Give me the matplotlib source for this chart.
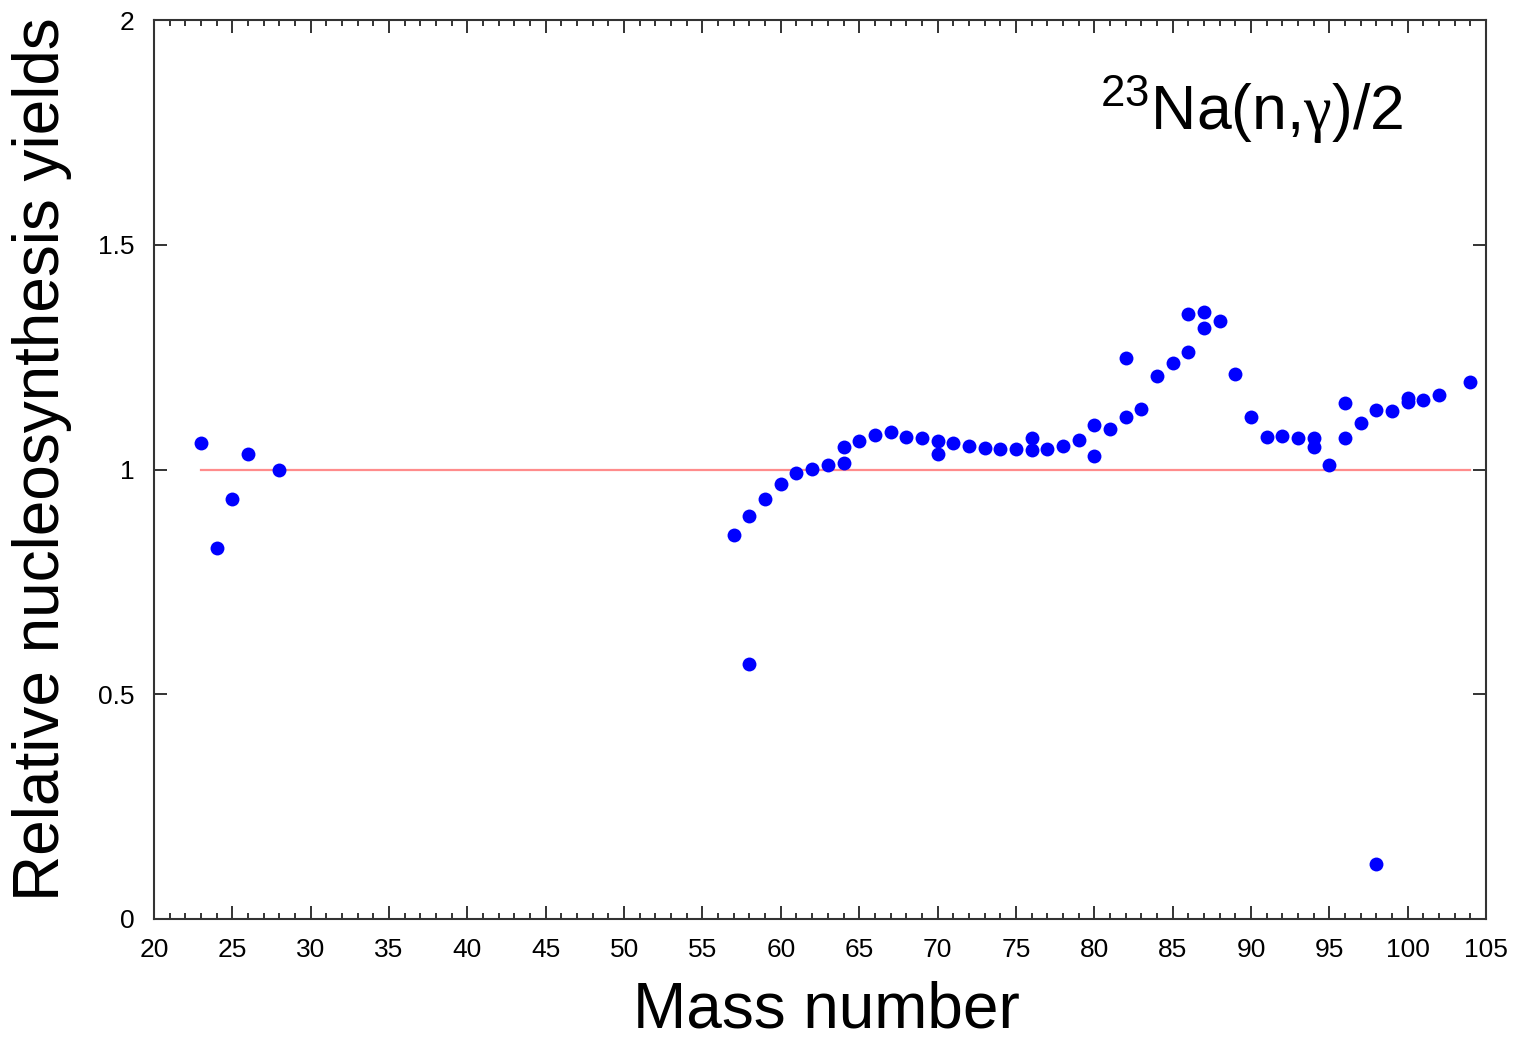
import matplotlib
matplotlib.use("Agg")
import matplotlib.pyplot as plt
from matplotlib.ticker import MultipleLocator

plt.rcParams['font.family'] = ['Liberation Sans', 'DejaVu Sans']
plt.rcParams['mathtext.fontset'] = 'custom'
plt.rcParams['mathtext.rm'] = 'Liberation Sans'
plt.rcParams['mathtext.sf'] = 'Liberation Serif'

mass_number = [23, 24, 25, 26, 28,
               57, 58, 58, 59, 60, 61, 62, 63, 64, 64, 65, 66, 67, 68, 69,
               70, 70, 71, 72, 73, 74, 75, 76, 76, 77, 78, 79, 80, 80, 81,
               82, 82, 83, 84, 85, 86, 86, 87, 87, 88, 89, 90, 91, 92, 93,
               94, 94, 95, 96, 96, 97, 98, 98, 99, 100, 100, 101, 102, 104]
relative_yield = [1.058, 0.826, 0.934, 1.034, 1.000,
                  0.854, 0.897, 0.567, 0.934, 0.967, 0.992, 1.001, 1.009, 1.014, 1.049,
                  1.063, 1.077, 1.083, 1.072, 1.069,
                  1.063, 1.034, 1.059, 1.053, 1.048, 1.046, 1.046, 1.069, 1.044, 1.046,
                  1.052, 1.066, 1.100, 1.031, 1.091,
                  1.249, 1.116, 1.134, 1.208, 1.238, 1.261, 1.347, 1.351, 1.315, 1.331,
                  1.212, 1.117, 1.073, 1.074, 1.069,
                  1.071, 1.049, 1.009, 1.149, 1.070, 1.103, 1.132, 0.123, 1.131, 1.160,
                  1.151, 1.154, 1.166, 1.195]
reference_x = [23, 104]
reference_y = [1.0, 1.0]

fig = plt.figure(figsize=(15.15, 10.42), dpi=100)
ax = fig.add_axes([154/1515, 1-919/1042, (1486-154)/1515, (919-20)/1042])

ax.plot(reference_x, reference_y, color='#ff8c8c', lw=1.6, zorder=1)
ax.plot(mass_number, relative_yield, 'o', color='#0000ff', ms=10, mew=0, zorder=2)

ax.set_xlim(20, 105)
ax.set_ylim(0, 2)
ax.xaxis.set_major_locator(MultipleLocator(5))
ax.xaxis.set_minor_locator(MultipleLocator(1))
ax.set_yticks([0, 0.5, 1, 1.5, 2])
ax.set_yticklabels(['0', '0.5', '1', '1.5', '2'])

for s in ax.spines.values():
    s.set_linewidth(1.5)
    s.set_color('#333333')
ax.tick_params(which='both', direction='in', top=True, right=True, color='#333333',
               labelsize=19, width=1.4)
ax.tick_params(which='major', length=9.5)
ax.tick_params(axis='x', which='major', pad=14)
ax.tick_params(axis='y', which='major', pad=14)
ax.tick_params(which='minor', length=4.5)

fig.text(826/1515, 1-1027/1042, 'Mass number', fontsize=46, ha='center', va='baseline')
fig.text(42/1515, 1-459/1042, 'Relative nucleosynthesis yields', fontsize=46,
         rotation=90, ha='center', va='center')

ax.text(1100/1515, 1-110/1042, r'$^{\mathrm{23}}$Na(n,$\mathsf{\gamma}$)/2', transform=fig.transFigure,
        fontsize=45, ha='left', va='center')

fig.savefig('out.png', dpi=100)
